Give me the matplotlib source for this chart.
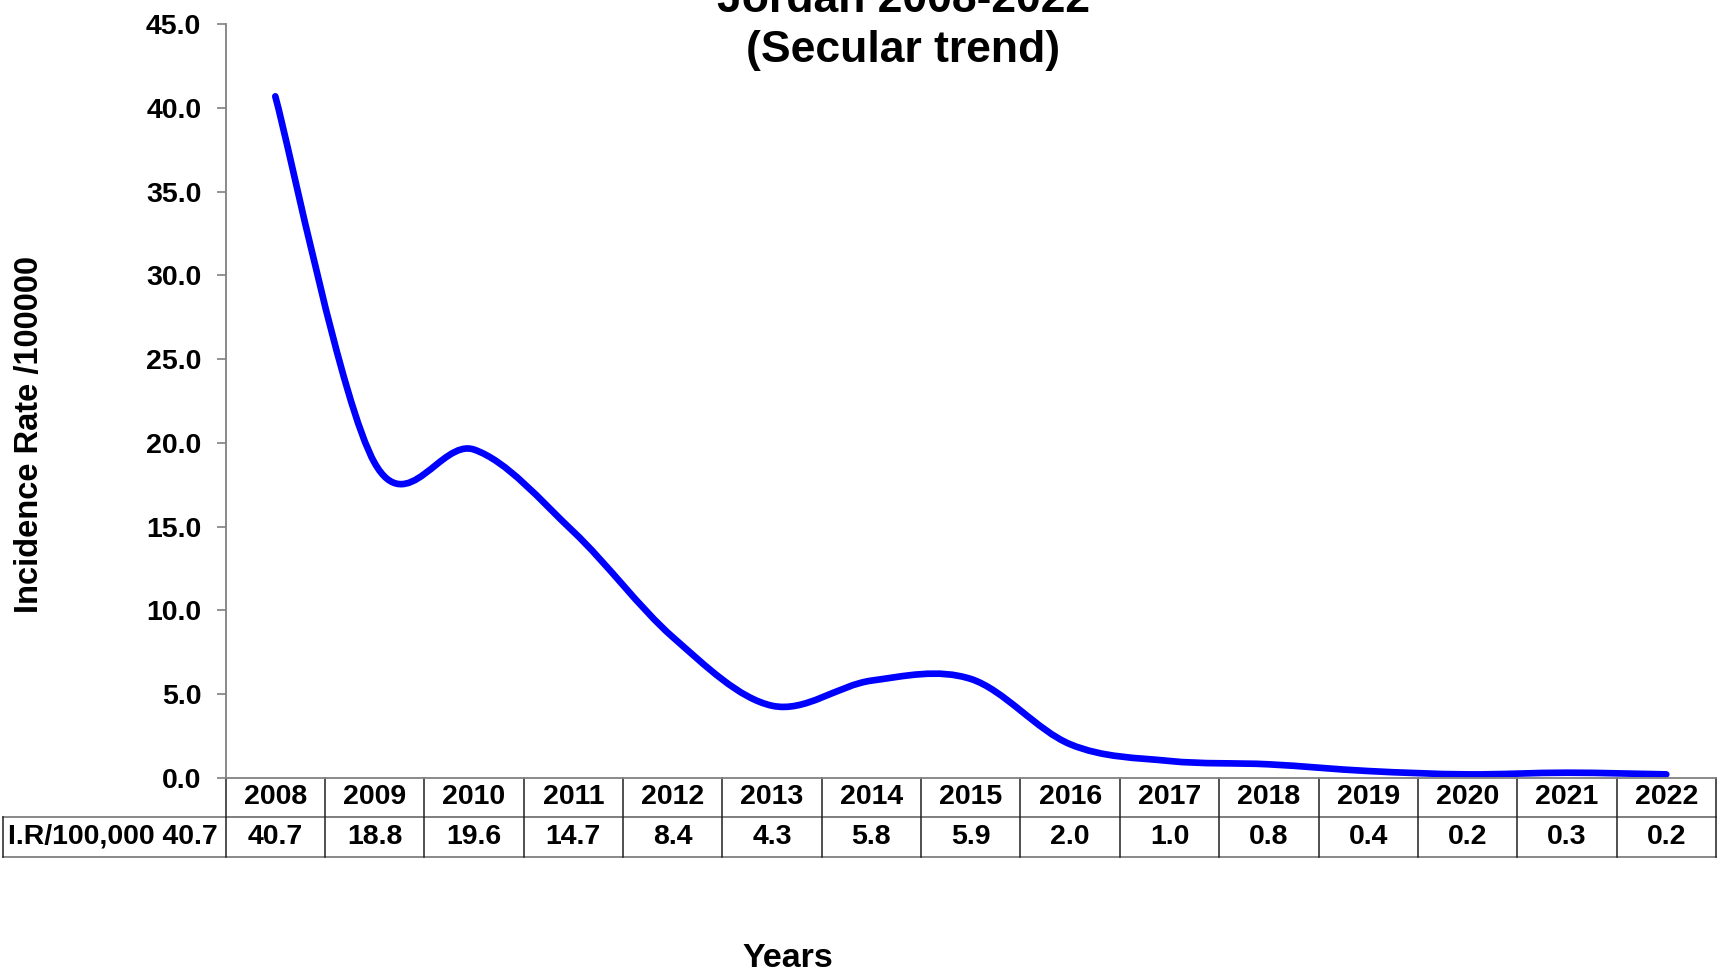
import matplotlib
matplotlib.use('Agg')
import matplotlib.pyplot as plt
from matplotlib.path import Path
from matplotlib.patches import PathPatch
import matplotlib.transforms as mtransforms

plt.rcParams['font.family'] = ['Liberation Sans', 'DejaVu Sans']
plt.rcParams['font.weight'] = 'bold'

years = ['2008', '2009', '2010', '2011', '2012', '2013', '2014', '2015',
         '2016', '2017', '2018', '2019', '2020', '2021', '2022']
rates = [40.7, 18.8, 19.6, 14.7, 8.4, 4.3, 5.8, 5.9, 2.0, 1.0, 0.8, 0.4, 0.2, 0.3, 0.2]
row_label = 'I.R/100,000 40.7'
title_lines = ['Jordan 2008-2022', '(Secular trend)']
y_ticks = [0, 5, 10, 15, 20, 25, 30, 35, 40, 45]

fig = plt.figure(figsize=(17.17, 9.73), dpi=100)
ax = fig.add_axes([0.1314, 0.2007, 0.8680, 0.7743])

# smoothed line (excel-like bezier through the points)
xs = list(range(len(rates)))
n = len(rates)
verts = [(xs[0], rates[0])]
codes = [Path.MOVETO]
for i in range(n - 1):
    x0, y0 = xs[max(i - 1, 0)], rates[max(i - 1, 0)]
    x1, y1 = xs[i], rates[i]
    x2, y2 = xs[i + 1], rates[i + 1]
    x3, y3 = xs[min(i + 2, n - 1)], rates[min(i + 2, n - 1)]
    c1 = (x1 + (x2 - x0) / 6.0, y1 + (y2 - y0) / 6.0)
    c2 = (x2 - (x3 - x1) / 6.0, y2 - (y3 - y1) / 6.0)
    verts += [c1, c2, (x2, y2)]
    codes += [Path.CURVE4] * 3
curve = PathPatch(Path(verts, codes), fill=False, edgecolor='#0000ff', lw=4.8,
                  capstyle='round', joinstyle='round')
ax.add_patch(curve)

ax.set_xlim(-0.5, n - 0.5)
ax.set_ylim(0, 45)
ax.set_yticks(y_ticks)
ax.set_yticklabels(['%.1f' % v for v in y_ticks], fontsize=20.5, fontweight='bold')
ax.set_xticks([])
ax.tick_params(axis='y', direction='out', length=6.5, width=1.2, color='#808080', pad=11)
for s in ['top', 'right']:
    ax.spines[s].set_visible(False)
ax.spines['left'].set_color('#808080')
ax.spines['bottom'].set_color('#808080')
ax.spines['left'].set_linewidth(1.3)
ax.spines['bottom'].set_linewidth(1.3)

# data table under the axis
tr = mtransforms.blended_transform_factory(ax.transData, ax.transAxes)
r1 = -0.0518
r2 = -0.1049
lab_x = -2.742
ax.plot([-0.5, n - 0.5], [r1, r1], color='#808080', lw=1.3, transform=tr, clip_on=False)
ax.plot([lab_x, n - 0.5], [r1, r1], color='#808080', lw=1.3, transform=tr, clip_on=False)
ax.plot([lab_x, n - 0.5], [r2, r2], color='#808080', lw=1.3, transform=tr, clip_on=False)
for k in range(n + 1):
    ax.plot([k - 0.5, k - 0.5], [0, r2], color='#202020', lw=1.1, transform=tr, clip_on=False)
ax.plot([lab_x, lab_x], [r1, r2], color='#202020', lw=1.1, transform=tr, clip_on=False)
for i in range(n):
    ax.text(xs[i], r1 / 2, years[i], ha='center', va='center', fontsize=20.5,
            fontweight='bold', transform=tr)
    ax.text(xs[i], (r1 + r2) / 2, '%.1f' % rates[i], ha='center', va='center',
            fontsize=20.5, fontweight='bold', transform=tr)
ax.text(lab_x + 0.05, (r1 + r2) / 2, row_label, ha='left', va='center', fontsize=20.5,
        fontweight='bold', transform=tr)

# titles and axis labels
fig.text(0.526, 1 - 12 / 973, title_lines[0], ha='center', va='baseline', fontsize=32,
         fontweight='bold')
fig.text(0.526, 1 - 62 / 973, title_lines[1], ha='center', va='baseline', fontsize=32,
         fontweight='bold')
fig.text(0.459, 1 - 967 / 973, 'Years', ha='center', va='baseline', fontsize=24.5,
         fontweight='bold')
fig.text(0.0169, 0.553, 'Incidence Rate /100000', ha='center', va='center', rotation=90,
         fontsize=23.5, fontweight='bold')

fig.savefig('out.png', dpi=100)
